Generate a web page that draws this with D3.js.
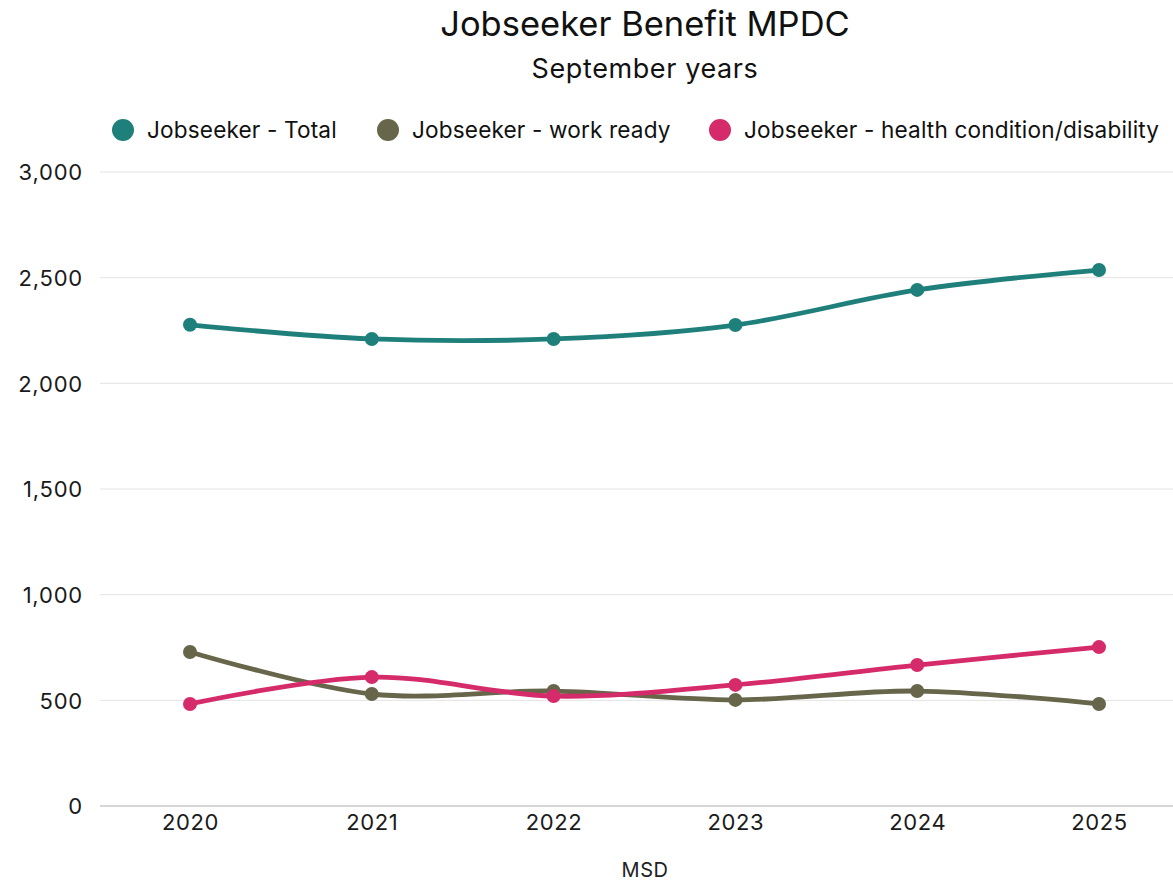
<!DOCTYPE html>
<html>
<head>
<meta charset="utf-8">
<script src="https://cdn.jsdelivr.net/npm/d3@7"></script>
<style>
  html, body { margin: 0; padding: 0; background: #fff; }
  svg { display: block; font-family: "Inter", sans-serif; }
</style>
</head>
<body>
<svg id="chart" width="1173" height="882"></svg>
<script>
// Jobseeker Benefit recipients, MPDC, September years
const years = ["2020", "2021", "2022", "2023", "2024", "2025"];
const totalValues = [2277, 2210, 2210, 2276, 2442, 2536];
const workReadyValues = [729, 530, 544, 502, 544, 483];
const healthValues = [483, 610, 520, 573, 667, 752];
const yTicks = [0, 500, 1000, 1500, 2000, 2500, 3000];

const seriesNames = ["Jobseeker - Total", "Jobseeker - work ready", "Jobseeker - health condition/disability"];
const seriesColors = ["#1f807b", "#67654a", "#d62b6b"];
const series = [
  { name: seriesNames[0], values: totalValues, color: seriesColors[0] },
  { name: seriesNames[1], values: workReadyValues, color: seriesColors[1] },
  { name: seriesNames[2], values: healthValues, color: seriesColors[2] }
];

const svg = d3.select("#chart");
const plotLeft = 100, plotRight = 1173;
const fontFamily = "Inter, sans-serif";

const x = d3.scalePoint().domain(years).range([190, 1099]);
const y = d3.scaleLinear().domain([0, 3000]).range([806, 172]);

// Title and subtitle
svg.append("text").attr("x", 645).attr("y", 36).attr("text-anchor", "middle")
  .attr("font-size", 34.5).attr("fill", "#111").text("Jobseeker Benefit MPDC");
svg.append("text").attr("x", 645).attr("y", 78).attr("text-anchor", "middle")
  .attr("font-size", 27).attr("letter-spacing", 0.6).attr("fill", "#111").text("September years");

// Legend
const legendX = [123, 388, 720];
const legend = svg.append("g");
series.forEach((s, i) => {
  legend.append("circle").attr("cx", legendX[i]).attr("cy", 130).attr("r", 11).attr("fill", s.color);
  legend.append("text").attr("x", legendX[i] + 24).attr("y", 138)
    .attr("font-size", 22.6).attr("letter-spacing", 0.15).attr("fill", "#111").text(s.name);
});

// Gridlines
svg.append("g").selectAll("line").data(yTicks).join("line")
  .attr("x1", plotLeft).attr("x2", plotRight)
  .attr("y1", d => y(d)).attr("y2", d => y(d))
  .attr("stroke", d => d === 0 ? "#c8c8c8" : "#e3e3e3").attr("stroke-width", d => d === 0 ? 1.5 : 1);

// Y axis labels
const yAxis = d3.axisLeft(y).tickValues(yTicks).tickSize(0).tickPadding(0).tickFormat(d3.format(","));
const yg = svg.append("g").attr("transform", "translate(83,0)").call(yAxis);
yg.select(".domain").remove();
yg.selectAll("text").attr("font-size", 22).attr("letter-spacing", 0.8).attr("fill", "#1a1a1a")
  .attr("font-family", fontFamily).attr("dy", "0.36em");

// X axis labels
const xAxis = d3.axisBottom(x).tickSize(0).tickPadding(0);
const xg = svg.append("g").attr("transform", "translate(0,814)").call(xAxis);
xg.select(".domain").remove();
xg.selectAll("text").attr("font-size", 22).attr("letter-spacing", 0.6).attr("fill", "#1a1a1a")
  .attr("font-family", fontFamily);

// Axis caption
svg.append("text").attr("x", 645).attr("y", 877).attr("text-anchor", "middle")
  .attr("font-size", 20).attr("letter-spacing", 0.5).attr("fill", "#222").text("MSD");

// Lines and markers
const line = d3.line()
  .x((d, i) => x(years[i]))
  .y(d => y(d))
  .curve(d3.curveCatmullRom.alpha(0.5));

series.forEach(s => {
  svg.append("path").datum(s.values)
    .attr("d", line).attr("fill", "none")
    .attr("stroke", s.color).attr("stroke-width", 4.8)
    .attr("stroke-linejoin", "round").attr("stroke-linecap", "round");
  svg.append("g").selectAll("circle").data(s.values).join("circle")
    .attr("cx", (d, i) => x(years[i])).attr("cy", d => y(d))
    .attr("r", 7).attr("fill", s.color);
});
</script>
</body>
</html>
